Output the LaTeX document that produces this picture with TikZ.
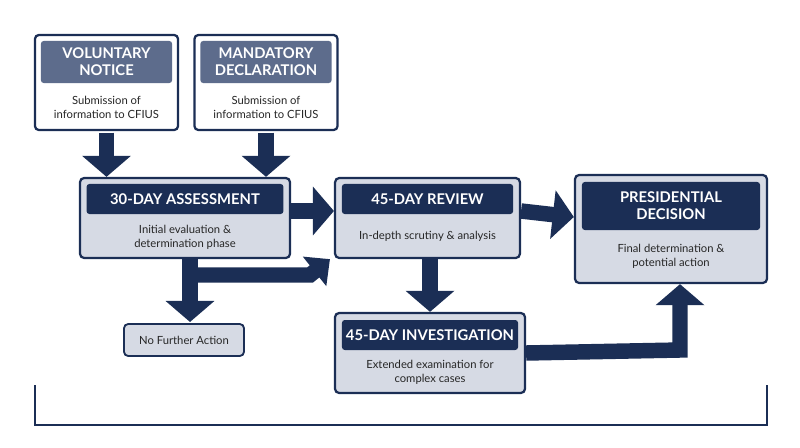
\documentclass[tikz,border=0pt]{standalone}
\usepackage{fontspec}
\setmainfont{Lato}
\usetikzlibrary{calc,positioning,arrows.meta}
\definecolor{navy}{HTML}{1B2E55}
\definecolor{slate}{HTML}{5D6C8C}
\definecolor{paleblue}{HTML}{D6DAE4}
\definecolor{edgegray}{HTML}{8F98AA}
\tikzset{box/.style={draw=navy,line width=1.6pt,rounded corners=3pt,fill=white},
gbox/.style={box,fill=paleblue},
head/.style={fill=navy,rounded corners=2pt,text=white,font=\bfseries\fontsize{10.5}{12}\selectfont,align=center,inner sep=0pt},
shead/.style={head,fill=slate},
txt/.style={font=\fontsize{8}{10}\selectfont,align=center,text=black!85},
big/.style={draw=navy,line width=11pt,-{Triangle[length=15pt,width=34pt]}}}
\begin{document}
\begin{tikzpicture}[x=0.025cm,y=-0.025cm]
		\useasboundingbox (0,0) rectangle (800,447);
		% boxes
		\node[box,minimum width=3.58cm,minimum height=2.38cm] (vol) at (106.5,82.5) {};
		\node[shead,minimum width=3.28cm,minimum height=1.05cm] (volH) at (106.5,62) {VOLUNTARY\\NOTICE};
		\node[txt] (volT) at (106.5,107) {Submission of\\information to CFIUS};

		\node[box,minimum width=3.58cm,minimum height=2.38cm] (man) at (266,82.5) {};
		\node[shead,minimum width=3.28cm,minimum height=1.05cm] (manH) at (266,62) {MANDATORY\\DECLARATION};
		\node[txt] (manT) at (266,107) {Submission of\\information to CFIUS};

		\node[gbox,minimum width=5.25cm,minimum height=2.0cm] (asm) at (185,218) {};
		\node[head,minimum width=4.92cm,minimum height=0.75cm] (asmH) at (185,199) {30-DAY ASSESSMENT};
		\node[txt] (asmT) at (185,237) {Initial evaluation \&\\determination phase};

		\node[gbox,minimum width=4.62cm,minimum height=2.0cm] (rev) at (427.5,218) {};
		\node[head,minimum width=4.28cm,minimum height=0.75cm] (revH) at (427.5,199) {45-DAY REVIEW};
		\node[txt] (revT) at (427.5,236) {In-depth scrutiny \& analysis};

		\node[gbox,minimum width=4.8cm,minimum height=2.7cm] (pres) at (671,229) {};
		\node[head,minimum width=4.45cm,minimum height=1.2cm] (presH) at (671,206) {PRESIDENTIAL\\DECISION};
		\node[txt] (presT) at (671,256) {Final determination \&\\potential action};

		\node[gbox,minimum width=4.75cm,minimum height=2.0cm] (inv) at (430,353) {};
		\node[head,minimum width=4.4cm,minimum height=0.75cm] (invH) at (430,335) {45-DAY INVESTIGATION};
		\node[txt] (invT) at (430,372) {Extended examination for\\complex cases};

		\node[gbox,line width=1.3pt,minimum width=3.0cm,minimum height=0.8cm,txt] (nfa) at (184,340) {No Further Action};

		% arrows
		\draw[big,shorten <=1pt] (vol.south) -- (vol.south |- asm.north);
		\draw[big,shorten <=1pt] (man.south) -- (man.south |- asm.north);
		\draw[big] ($(asm.east)+(0,-7)$) -- ($(rev.west)+(0,-7)$);
		\draw[big] ($(rev.east)+(0,-7)$) -- ($(pres.west)+(0,-12)$);
		\draw[big] (rev.south -| inv.north) -- (inv.north);
		\draw[big] (190,258) -- (190,322);
		\coordinate (bend) at (310,275);
		\draw[big,-{Triangle[length=14pt,width=26pt]}] (196,275) -- (bend) -- ($(rev.south west)+(-4,0)$);
		\coordinate (turn) at (680,350);
		\draw[big,line join=miter] (inv.east) -- (turn) -- (turn |- pres.south);

		% bracket
		\draw[navy,line width=1.6pt] (35,385) -- (35,425) -- (767,425) -- (767,385);
	\end{tikzpicture}
\end{document}
